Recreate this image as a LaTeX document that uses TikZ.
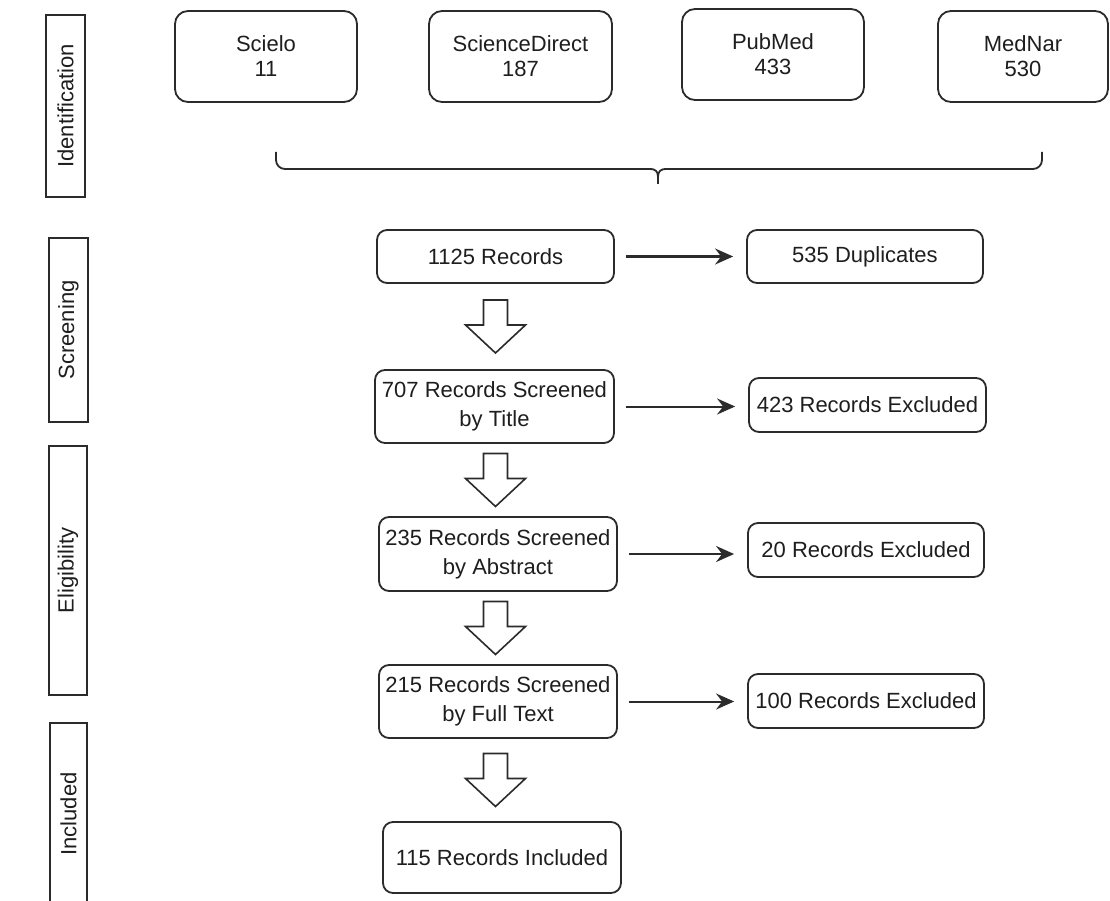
\documentclass[tikz,border=0pt]{standalone}
\usepackage{fontspec}
\setmainfont{Liberation Sans}
\usetikzlibrary{arrows.meta,calc}
\definecolor{ln}{HTML}{2b2b2b}
\definecolor{tx}{HTML}{1e1e1e}
\begin{document}
\begin{tikzpicture}[x=1pt,y=-1pt,
  box/.style={draw=ln, line width=1.8pt, rounded corners=10pt, inner sep=0pt, align=center, text=tx, font=\fontsize{22}{29}\selectfont},
  src/.style={box, rounded corners=13pt, font=\fontsize{22}{25}\selectfont},
  stage/.style={draw=ln, line width=1.8pt, inner sep=0pt, rotate=90, text=tx, font=\fontsize{22}{26}\selectfont},
  link/.style={draw=ln, line width=2pt, -{Stealth[length=18pt,width=16pt,inset=6pt]}, shorten <=11pt, shorten >=13pt},
  blk/.style={draw=ln, line width=1.6pt, fill=white, line join=miter},
  brace/.style={draw=ln, line width=1.8pt}]
\useasboundingbox (0,0) rectangle (1110,901);
\fill[white] (0,0) rectangle (1110,901);
\clip (0,0) rectangle (1110,901);

% stage labels
\node[stage, minimum width=182pt, minimum height=39pt] (l1) at (65.5,106) {Identification};
\node[stage, minimum width=184pt, minimum height=39pt] (l2) at (68.5,330) {Screening};
\node[stage, minimum width=249pt, minimum height=38pt] (l3) at (68,570.5) {Eligibility};
\node[stage, minimum width=182pt, minimum height=37pt] (l4) at (68.5,814) {Included};

% sources
\node[src, minimum width=182pt, minimum height=91pt] (s1) at (266,56.5) {Scielo\\11};
\node[src, minimum width=183pt, minimum height=91pt] (s2) at (520.5,56.5) {ScienceDirect\\187};
\node[src, minimum width=182pt, minimum height=91pt] (s3) at (773,54.5) {PubMed\\433};
\node[src, minimum width=170pt, minimum height=91pt] (s4) at (1023,56.5) {MedNar\\530};

% bracket
\draw[brace, rounded corners=9pt] (276,152) -- (276,169) -- (652,169);
\draw[brace] (650,169) .. controls (655,169) and (658,171) .. (658,177) -- (658,184);
\draw[brace] (666,169) .. controls (661,169) and (658,171) .. (658,177);
\draw[brace, rounded corners=9pt] (664,169) -- (1042,169) -- (1042,152);

% main column
\node[box, minimum width=237pt, minimum height=53pt] (r1) at (495.5,256.5) {1125 Records};
\node[box, minimum width=239pt, minimum height=73pt] (r2) at (494.5,406.5) {707 Records Screened\\by Title};
\node[box, minimum width=238pt, minimum height=74pt] (r3) at (498,554) {235 Records Screened\\by Abstract};
\node[box, minimum width=238pt, minimum height=73pt] (r4) at (498,701.5) {215 Records Screened\\by Full Text};
\node[box, minimum width=238pt, minimum height=71pt] (r5) at (502,857.5) {115 Records Included};

% right column
\node[box, minimum width=236pt, minimum height=53pt] (d1) at (865,256.5) {535 Duplicates};
\node[box, minimum width=237pt, minimum height=54pt] (e1) at (867.5,405) {423 Records Excluded};
\node[box, minimum width=236pt, minimum height=54pt] (e2) at (866,550) {20 Records Excluded};
\node[box, minimum width=236pt, minimum height=54pt] (e3) at (866,701) {100 Records Excluded};

% horizontal arrows
\draw[link] (r1.east) -- (r1.east -| d1.west);
\draw[link] (r2.east) -- (r2.east -| e1.west);
\draw[link] (r3.east) -- (r3.east -| e2.west);
\draw[link] (r4.east) -- (r4.east -| e3.west);

% hollow block arrows
\foreach \a/\b in {r1/r2,r2/r3,r3/r4,r4/r5}{
  \coordinate (m) at ($(\a.south)!0.5!(\b.north)$);
  \coordinate (mm) at (m -| r1.south);
  \draw[blk] (mm) ++(-12,-26.5) -- ++(24,0) -- ++(0,25) -- ++(18,0) -- ++(-30,28) -- ++(-30,-28) -- ++(18,0) -- cycle;
}
\end{tikzpicture}
\end{document}
